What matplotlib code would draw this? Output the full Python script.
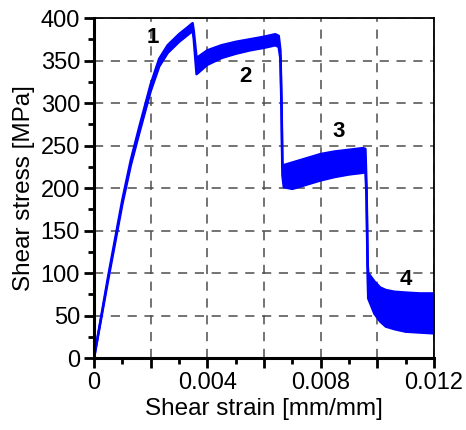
import matplotlib
matplotlib.use("Agg")
import matplotlib.pyplot as plt
from matplotlib.ticker import MultipleLocator, FuncFormatter

plt.rcParams['font.family'] = ['Liberation Sans', 'DejaVu Sans']

# strain [mm/mm] and the upper / lower edge of the oscillating stress band [MPa]
strain = [0, 0.0005, 0.0010, 0.0013, 0.0016, 0.0020, 0.0023, 0.0026, 0.0030, 0.0033,
          0.00348, 0.00352, 0.00362, 0.0040, 0.0045, 0.0050, 0.0055, 0.0060, 0.0064,
          0.00652, 0.00658, 0.00662, 0.00665, 0.0067, 0.0070, 0.0075, 0.0080, 0.0085,
          0.0090, 0.0095, 0.00958, 0.00962, 0.00966, 0.00968, 0.0099, 0.0101, 0.0103,
          0.0106, 0.0110, 0.0115, 0.0120]
upper = [0, 96, 186, 233, 272, 322, 352, 368, 381, 389,
         394, 385, 353, 362, 368, 372, 375, 378, 381,
         379, 362, 300, 228, 227, 230, 235, 240, 243,
         245, 247, 246, 200, 110, 100, 90, 83, 80,
         78, 77, 76, 76]
lower = [0, 92, 181, 227, 265, 314, 343, 359, 372, 380,
         385, 376, 334, 345, 353, 358, 362, 365, 368,
         366, 352, 290, 215, 201, 199, 204, 209, 213,
         216, 218, 220, 190, 95, 70, 52, 43, 37,
         34, 31, 30, 29]

stage_labels = ['1', '2', '3', '4']
stage_x = [0.00208, 0.00535, 0.00862, 0.0110]
stage_y = [377, 331, 267, 92]

fig = plt.figure(figsize=(4.66, 4.30), dpi=100)
ax = fig.add_axes([0.2017, 0.1674, 0.7296, 0.7906])

ax.fill_between(strain, lower, upper, color='#0000ff', lw=0)
ax.plot(strain, upper, color='#0000ff', lw=1.8)
ax.plot(strain, lower, color='#0000ff', lw=1.8)

for s, x, y in zip(stage_labels, stage_x, stage_y):
    ax.text(x, y, s, fontsize=16, fontweight='bold', ha='center', va='center')

ax.set_xlim(0, 0.012)
ax.set_ylim(0, 400)
ax.xaxis.set_major_locator(MultipleLocator(0.002))
ax.xaxis.set_minor_locator(MultipleLocator(0.001))
ax.yaxis.set_major_locator(MultipleLocator(50))
ax.yaxis.set_minor_locator(MultipleLocator(25))


def xfmt(v, pos):
    k = round(v / 0.002)
    if k % 2:
        return ''
    if k == 0:
        return '0'
    return '%.3f' % v


ax.xaxis.set_major_formatter(FuncFormatter(xfmt))
ax.grid(True, which='major', color='0.3', ls=(0, (6, 5)), lw=1.1)
ax.set_axisbelow(True)

ax.tick_params(which='major', direction='out', length=7, width=2, labelsize=17, pad=3)
ax.tick_params(which='minor', direction='out', length=4, width=2)
ax.tick_params(top=False, right=False)
for side in ['left', 'bottom']:
    ax.spines[side].set_linewidth(2.2)
for side in ['top', 'right']:
    ax.spines[side].set_linewidth(1.3)

ax.set_xlabel('Shear strain [mm/mm]', fontsize=17.5, labelpad=3)
ax.set_ylabel('Shear stress [MPa]', fontsize=17.5, labelpad=4)

fig.savefig('out.png', dpi=100)
